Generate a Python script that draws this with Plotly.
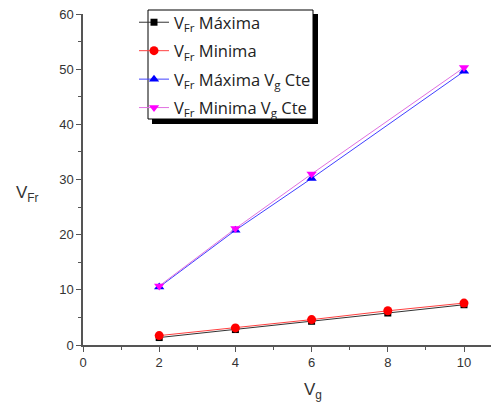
import plotly.graph_objects as go

x_low = [2, 4, 6, 8, 10]
vfr_max = [1.35, 2.8, 4.3, 5.8, 7.3]
vfr_min = [1.7, 3.1, 4.6, 6.2, 7.6]

x_cte = [2, 4, 6, 10]
vfr_max_cte = [10.5, 20.8, 30.2, 49.6]
vfr_min_cte = [10.7, 21.1, 31.0, 50.3]

names = ["V<sub>Fr</sub> Máxima", "V<sub>Fr</sub> Minima",
         "V<sub>Fr</sub> Máxima V<sub>g</sub> Cte", "V<sub>Fr</sub> Minima V<sub>g</sub> Cte"]

fig = go.Figure()
fig.add_trace(go.Scatter(x=x_low, y=vfr_max, name=names[0], mode="lines+markers", legendgroup="a",
                         line=dict(color="#333333", width=1),
                         marker=dict(symbol="square", size=7, color="black")))
fig.add_trace(go.Scatter(x=x_low, y=vfr_min, name=names[1], mode="lines+markers", legendgroup="b",
                         line=dict(color="#ff4040", width=1),
                         marker=dict(symbol="circle", size=9, color="red")))
fig.add_trace(go.Scatter(x=x_cte, y=vfr_max_cte, name=names[2], mode="lines+markers", legendgroup="c",
                         line=dict(color="#4040ff", width=1),
                         marker=dict(symbol="triangle-up", size=9, color="blue")))
fig.add_trace(go.Scatter(x=x_cte, y=vfr_min_cte, name=names[3], mode="lines+markers", legendgroup="d",
                         line=dict(color="#e070e0", width=1),
                         marker=dict(symbol="triangle-down", size=9, color="#ff00ff")))

# page has an 8px body margin; figure is placed at (8, 8)
OFF = 8
W, H = 491, 399
PL, PR, PT, PB = 83, 495, 14, 345  # plot area in page pixels
L, R, T, B = PL - OFF, OFF + W - PR, PT - OFF, OFF + H - PB
pw, ph = PR - PL, PB - PT

def px(xp):
    return (xp - PL) / pw

def py(yp):
    return (PB - yp) / ph

axis_common = dict(showgrid=False, zeroline=False, showline=True, linecolor="#555555",
                   linewidth=1.5, ticks="outside", ticklen=5, tickcolor="#555555",
                   ticklabeloverflow="allow",
                   tickfont=dict(family="Liberation Sans, Arial", size=13, color="#333333"))

fig.update_layout(
    width=W, height=H,
    margin=dict(l=L, r=R, t=T, b=B, autoexpand=False),
    paper_bgcolor="white", plot_bgcolor="white",
    xaxis=dict(range=[0, (PR - PL) / 38.1], tickmode="linear", tick0=0, dtick=2,
               minor=dict(ticks="outside", ticklen=3, dtick=1, tickcolor="#555555"),
               **axis_common),
    yaxis=dict(range=[0, 60], tickmode="linear", tick0=0, dtick=10,
               minor=dict(ticks="outside", ticklen=3, dtick=5, tickcolor="#555555"),
               **axis_common),
    showlegend=True,
    legend=dict(x=px(134), y=py(5), xanchor="left", yanchor="top",
                bgcolor="rgba(0,0,0,0)", borderwidth=0,
                font=dict(family="Open Sans", size=16.5, color="#222222"),
                tracegroupgap=4, itemwidth=30),
    shapes=[
        dict(type="rect", xref="paper", yref="paper", layer="above",
             x0=px(152), x1=px(318), y0=py(124), y1=py(14),
             fillcolor="black", line=dict(width=0)),
        dict(type="rect", xref="paper", yref="paper", layer="above",
             x0=px(148), x1=px(313), y0=py(119), y1=py(10),
             fillcolor="white", line=dict(color="black", width=1)),
    ],
    annotations=[
        dict(text="V<sub>Fr</sub>", xref="paper", yref="paper", x=px(27), y=py(194),
             xanchor="center", yanchor="middle",
             showarrow=False, font=dict(family="Liberation Sans, Arial", size=17, color="#333333")),
        dict(text="V<sub>g</sub>", xref="paper", yref="paper", x=px(313), y=py(391),
             xanchor="center", yanchor="middle",
             showarrow=False, font=dict(family="Liberation Sans, Arial", size=17, color="#333333")),
    ],
)

fig.write_html("out.html")
